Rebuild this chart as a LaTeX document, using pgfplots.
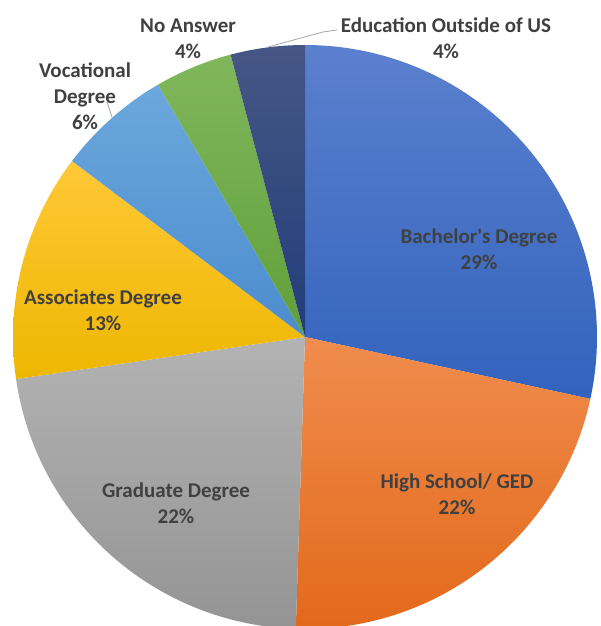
\documentclass[border=0pt]{standalone}
\usepackage{pgfplots}
\pgfplotsset{compat=1.18}
\usepackage{fontspec}
\setmainfont{Carlito}
\definecolor{blueT}{HTML}{5B80CE}
\definecolor{blueB}{HTML}{3263BD}
\definecolor{orangeT}{HTML}{F08C4E}
\definecolor{orangeB}{HTML}{E3691A}
\definecolor{grayT}{HTML}{B3B3B3}
\definecolor{grayB}{HTML}{949494}
\definecolor{yellowT}{HTML}{FFC838}
\definecolor{yellowB}{HTML}{EDB700}
\definecolor{lblueT}{HTML}{6CA8DD}
\definecolor{lblueB}{HTML}{4C8CCE}
\definecolor{greenT}{HTML}{80B75C}
\definecolor{greenB}{HTML}{619F3A}
\definecolor{navyT}{HTML}{465785}
\definecolor{navyB}{HTML}{213D79}
\definecolor{lbl}{HTML}{404040}
\definecolor{leader}{HTML}{A6A6A6}
\tikzset{lab/.style={font=\fontsize{21}{26}\selectfont\bfseries, text=lbl, align=center}}
% shares (percent of the circle), clockwise from 12 o'clock
\def\sBach{28.4}\def\sHS{22.1}\def\sGrad{22.2}\def\sAssoc{12.6}\def\sVoc{6.3}\def\sNo{4.3}\def\sOut{4.1}
\begin{document}
\begin{tikzpicture}
\useasboundingbox (0,0) rectangle (600pt,626pt);
\pgfmathsetmacro\cA{\sBach}
\pgfmathsetmacro\cB{\cA+\sHS}
\pgfmathsetmacro\cC{\cB+\sGrad}
\pgfmathsetmacro\cD{\cC+\sAssoc}
\pgfmathsetmacro\cE{\cD+\sVoc}
\pgfmathsetmacro\cF{\cE+\sNo}
\pgfmathsetmacro\cG{\cF+\sOut}
\begin{axis}[at={(0,0)}, anchor=south west, scale only axis,
  width=600pt, height=626pt, xmin=0, xmax=600, ymin=0, ymax=626,
  hide axis, clip=true, samples=90, variable=\t]
\addplot[draw=none, top color=blueT, bottom color=blueB, domain={90-3.6*\cA}:90] ({305+292*cos(t)},{289+292*sin(t)}) -- (axis cs:305,289) -- cycle;
\addplot[draw=none, top color=orangeT, bottom color=orangeB, domain={90-3.6*\cB}:{90-3.6*\cA}] ({305+292*cos(t)},{289+292*sin(t)}) -- (axis cs:305,289) -- cycle;
\addplot[draw=none, top color=grayT, bottom color=grayB, domain={90-3.6*\cC}:{90-3.6*\cB}] ({305+292*cos(t)},{289+292*sin(t)}) -- (axis cs:305,289) -- cycle;
\addplot[draw=none, top color=yellowT, bottom color=yellowB, domain={90-3.6*\cD}:{90-3.6*\cC}] ({305+292*cos(t)},{289+292*sin(t)}) -- (axis cs:305,289) -- cycle;
\addplot[draw=none, top color=lblueT, bottom color=lblueB, domain={90-3.6*\cE}:{90-3.6*\cD}] ({305+292*cos(t)},{289+292*sin(t)}) -- (axis cs:305,289) -- cycle;
\addplot[draw=none, top color=greenT, bottom color=greenB, domain={90-3.6*\cF}:{90-3.6*\cE}] ({305+292*cos(t)},{289+292*sin(t)}) -- (axis cs:305,289) -- cycle;
\addplot[draw=none, top color=navyT, bottom color=navyB, domain={90-3.6*\cG}:{90-3.6*\cF}] ({305+292*cos(t)},{289+292*sin(t)}) -- (axis cs:305,289) -- cycle;
% leader lines
\addplot[leader, line width=0.8pt] coordinates {(107,524) (112,509)};
\addplot[leader, line width=0.8pt] coordinates {(337,596) (323,594) (268,579)};
% labels
\node[lab] at (axis cs:479,377) {Bachelor\textquotesingle s Degree\\29\%};
\node[lab] at (axis cs:457,131.5) {High School/ GED\\22\%};
\node[lab] at (axis cs:176,122.5) {Graduate Degree\\22\%};
\node[lab] at (axis cs:103,316) {Associates Degree\\13\%};
\node[lab] at (axis cs:85,529.3) {Vocational\\Degree\\6\%};
\node[lab] at (axis cs:188,587.5) {No Answer\\4\%};
\node[lab] at (axis cs:446,587.5) {Education Outside of US\\4\%};
\end{axis}
\end{tikzpicture}
\end{document}
